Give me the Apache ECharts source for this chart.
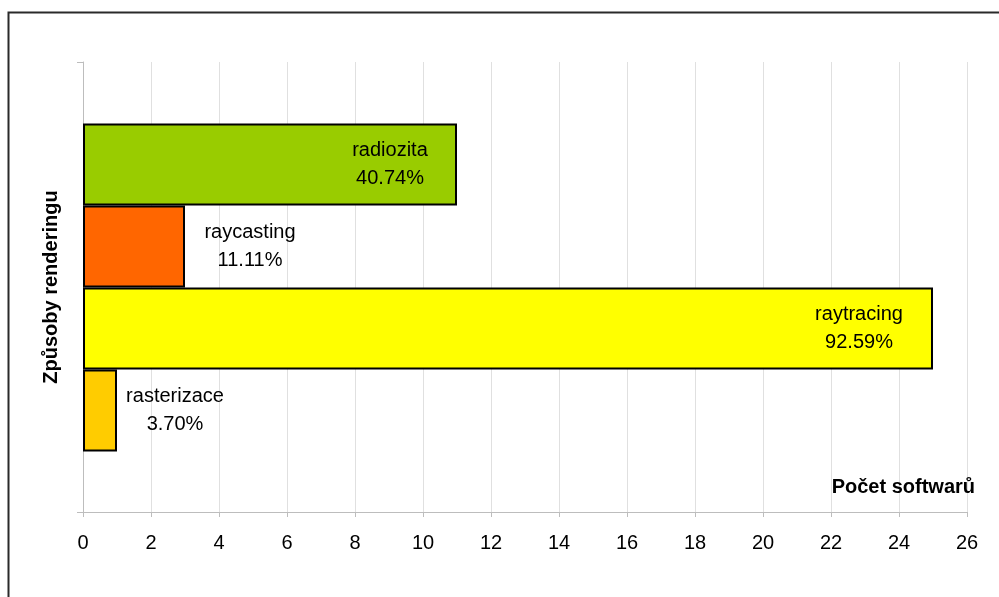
<!DOCTYPE html>
<html>
<head>
<meta charset="utf-8">
<script src="https://cdn.jsdelivr.net/npm/echarts@6/dist/echarts.min.js"></script>
<style>
html,body{margin:0;padding:0;background:#fff;}
#chart{width:999px;height:597px;}
</style>
</head>
<body>
<div id="chart"></div>
<script>
// Data
var categories = ['radiozita', 'raycasting', 'raytracing', 'rasterizace'];
var counts = [11, 3, 25, 1];
var percents = ['40.74%', '11.11%', '92.59%', '3.70%'];
var xTicks = { min: 0, max: 26, interval: 2 };
var xAxisName = 'Počet softwarů';
var yAxisName = 'Způsoby renderingu';

// Styles (not data)
var barColors = ['#99CC00', '#FF6600', '#FFFF00', '#FFCC00'];
var labelPos = [
  { position: 'insideRight', distance: 67 },
  { position: 'right', distance: 65 },
  { position: 'insideRight', distance: 74 },
  { position: 'right', distance: 58 }
];

var font = 'Arial, "Liberation Sans", sans-serif';
var chart = echarts.init(document.getElementById('chart'));

var barData = counts.map(function (v, i) {
  return {
    value: v,
    itemStyle: { color: barColors[i] },
    label: {
      show: true,
      position: labelPos[i].position,
      distance: labelPos[i].distance,
      align: 'center',
      verticalAlign: 'middle'
    }
  };
});

chart.setOption({
  animation: false,
  backgroundColor: '#ffffff',
  graphic: [{
    type: 'rect',
    shape: { x: 8.5, y: 12.5, width: 1100, height: 700 },
    style: { fill: 'none', stroke: '#2a2a2a', lineWidth: 2 },
    z: 100
  }],
  grid: [
    { left: 83, right: 32, top: 62, bottom: 85 },
    { left: 83, right: 32, top: 123.5, height: 328 }
  ],
  xAxis: [{
    gridIndex: 0,
    type: 'value',
    min: xTicks.min, max: xTicks.max, interval: xTicks.interval,
    name: xAxisName,
    nameLocation: 'end',
    nameGap: 8,
    nameTextStyle: {
      fontFamily: font, fontSize: 20, fontWeight: 'bold', color: '#000',
      align: 'right', verticalAlign: 'bottom', padding: [0, 0, 15, 0]
    },
    axisLine: { show: true, lineStyle: { color: '#bdbdbd', width: 1 } },
    axisTick: { show: true, length: 5, lineStyle: { color: '#bdbdbd' } },
    axisLabel: { fontFamily: font, fontSize: 20, color: '#000', margin: 21 },
    splitLine: { show: true, lineStyle: { color: '#e0e0e0', width: 1 } }
  }, {
    gridIndex: 1,
    type: 'value',
    min: xTicks.min, max: xTicks.max, interval: xTicks.interval,
    show: false
  }],
  yAxis: [{
    gridIndex: 0,
    type: 'value',
    min: 0, max: 1, interval: 1,
    name: yAxisName,
    nameLocation: 'middle',
    nameRotate: 90,
    nameGap: 22,
    nameTextStyle: { fontFamily: font, fontSize: 20, fontWeight: 'bold', color: '#000' },
    axisLine: { show: true, lineStyle: { color: '#bdbdbd', width: 1 } },
    axisTick: { show: true, length: 6, lineStyle: { color: '#bdbdbd' } },
    axisLabel: { show: false },
    splitLine: { show: false }
  }, {
    gridIndex: 1,
    type: 'category',
    data: categories,
    inverse: true,
    show: false
  }],
  series: [{
    type: 'bar',
    xAxisIndex: 1,
    yAxisIndex: 1,
    data: barData,
    barWidth: '100%',
    itemStyle: { borderColor: '#000', borderWidth: 2 },
    label: {
      show: true,
      fontFamily: font,
      fontSize: 20,
      color: '#000',
      lineHeight: 28,
      formatter: function (p) {
        return categories[p.dataIndex] + '\n' + percents[p.dataIndex];
      }
    },
    silent: true
  }]
});
</script>
</body>
</html>
